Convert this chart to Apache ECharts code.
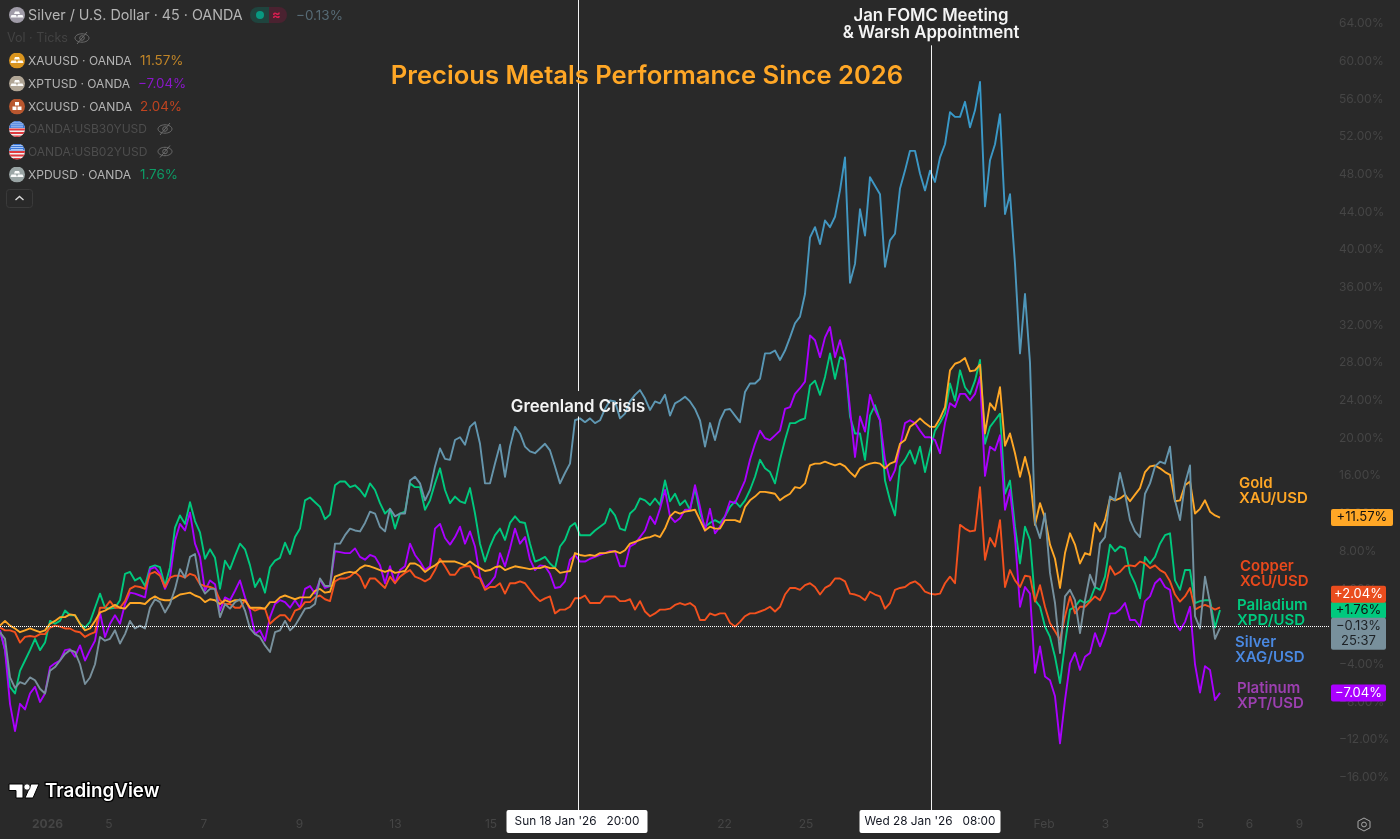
<!DOCTYPE html>
<html><head><meta charset="utf-8">
<style>html,body{margin:0;padding:0;background:#292929}#c{width:1400px;height:839px}</style>
<script src="https://cdn.jsdelivr.net/npm/echarts@6/dist/echarts.min.js"></script>
</head><body><div id="c"></div>
<script>
// percent change since the start of 2026, one sample per chart step
const silver = [
-0.6,-1.3,-5.4,-6.5,-5.9,-6.1,-5.4,-5.7,-6.6,-7.1,
-4.7,-4.3,-3.6,-2.9,-2.5,-2.7,-4.0,-6.1,-5.4,-4.0,
-1.1,-1.5,-1.3,-0.4,-1.8,-0.8,0.6,-0.2,0.1,-0.2,
2.0,2.9,2.6,1.5,2.4,4.0,6.1,5.2,7.4,7.7,
4.5,3.5,4.0,4.0,1.0,2.4,1.9,2.6,2.9,1.7,
-0.2,-0.8,-1.1,-2.0,-2.7,-0.6,-0.4,0.6,-0.4,0.1,
1.0,1.9,2.0,2.4,5.1,4.3,4.3,
8.8,8.8,9.7,10.4,10.2,10.1,11.0,12.2,12.0,10.6,
10.1,12.5,11.7,12.0,12.0,15.5,15.9,15.2,13.4,14.5,
17.0,18.9,17.8,17.7,19.8,20.1,19.3,21.2,21.7,19.4,
15.2,15.2,17.3,19.3,15.9,19.1,21.2,20.5,19.1,18.6,
18.4,18.9,19.4,18.7,17.0,15.2,16.3,17.3,21.9,22.1,
21.7,22.1,21.6,21.9,23.1,24.0,23.9,22.1,22.6,23.9,
24.6,25.1,24.2,23.0,23.9,23.7,
24.6,22.4,23.7,24.0,24.4,23.9,23.1,21.9,19.1,21.6,
19.8,21.9,23.0,23.1,22.4,21.7,24.9,25.8,25.8,26.3,
29.0,29.0,29.3,28.3,29.3,30.7,32.2,32.9,35.3,41.3,
42.4,40.6,43.1,42.4,43.5,46.3,49.8,36.5,38.5,44.3,
41.5,47.7,46.8,45.9,38.2,41.0,41.7,46.5,48.4,50.5,
50.5,48.1,46.3,48.4,47.2,49.8,51.2,54.6,54.1,54.1,
55.7,53.0,54.8,57.8,44.6,49.5,51.2,54.4,43.8,45.9,
38.5,29.0,35.3,28.0,
11.0,9.4,12.0,5.7,2.5,-2.8,3.2,3.9,2.8,-0.7,
2.8,5.5,4.2,8.8,9.5,13.8,13.4,16.3,14.1,11.3,
10.1,9.5,14.1,15.2,17.0,17.5,17.3,19.1,13.4,11.3,
15.2,17.1,1.1,-0.2,5.3,2.5,-1.3,-0.13];
const palladium = [
-0.4,-2.5,-6.4,-7.1,-4.7,-3.6,-2.5,-1.3,-2.5,-1.7,
0.6,0.3,0.6,1.7,1.2,1.2,0.3,-0.1,0.5,2.0,
3.5,2.0,1.9,2.0,2.8,5.6,5.8,4.9,5.2,4.3,
6.3,6.5,6.3,4.3,6.3,10.5,11.8,10.9,13.2,11.2,
10.0,7.2,8.2,7.3,4.0,7.0,6.1,7.5,8.8,8.2,
6.5,4.2,5.1,3.6,6.3,7.0,7.3,8.9,7.7,9.5,
10.4,13.4,13.7,13.2,12.7,11.4,11.9,
15.0,15.4,15.4,14.8,15.0,14.5,13.8,15.2,14.5,13.1,
12.0,12.5,10.4,12.0,12.2,15.2,14.8,14.8,12.4,13.4,
15.2,16.8,14.5,13.1,13.8,13.3,13.1,14.7,12.0,8.8,
6.9,8.5,9.7,10.4,9.2,11.0,11.7,11.1,11.0,8.8,
6.9,7.1,7.4,6.7,6.2,8.5,9.2,10.6,11.0,9.7,
9.7,9.7,10.2,10.6,11.0,12.5,11.8,10.4,10.2,12.0,
12.5,13.6,13.4,12.9,13.6,12.9,
15.5,13.3,14.1,12.9,13.4,12.4,14.7,12.0,10.6,11.0,
11.3,11.0,11.7,12.7,13.3,12.7,13.4,14.5,15.9,17.7,
16.8,16.4,15.2,17.7,19.8,21.6,21.6,21.9,22.1,25.6,
26.1,24.6,26.5,29.0,26.3,28.6,28.3,22.3,20.5,20.5,
17.7,22.4,23.5,21.9,15.5,13.4,11.8,17.0,17.7,18.7,
17.3,19.1,16.4,18.7,20.8,21.6,22.6,25.8,24.0,27.2,
25.4,24.7,26.1,28.3,19.4,21.2,21.9,22.6,14.1,15.5,
10.6,6.7,10.6,9.2,
2.8,2.1,0,-1.1,-3.2,-6.0,-1.8,1.8,2.1,2.8,
2.5,2.8,4.2,3.9,5.3,8.7,8.0,8.5,8.3,5.7,
4.6,3.0,7.4,6.7,7.4,8.8,9.7,9.9,4.9,3.9,
6.0,6.0,2.5,2.7,2.8,2.8,-0.1,1.76];
const platinum = [
-0.4,-2.5,-8.2,-11.1,-8.2,-8.8,-7.1,-6.4,-8.0,-7.1,
-4.3,-3.9,-3.6,-2.5,-2.4,-3.2,-2.0,-3.6,-2.5,-1.5,
1.5,-1.1,0.3,1.2,0.3,2.4,3.6,3.5,3.3,3.1,
6.1,6.3,5.6,4.0,5.2,9.1,10.9,10.2,12.1,8.8,
7.4,3.8,4.9,4.5,1.7,3.1,2.8,3.8,4.9,3.1,
1.7,-0.8,-0.4,-1.5,1.0,2.4,2.8,2.6,2.0,2.8,
2.0,4.0,4.3,3.5,5.0,4.1,4.3,
8.0,7.9,7.8,7.8,8.3,7.4,7.1,7.6,7.4,6.5,
4.6,6.4,4.6,6.0,6.4,8.8,7.6,6.9,6.0,6.4,
10.4,10.9,9.4,8.7,9.5,10.6,8.8,10.1,8.5,5.3,
4.1,4.6,5.3,7.8,6.4,8.3,10.4,8.8,9.5,7.1,
6.0,6.5,6.4,5.6,4.1,4.2,4.8,7.1,7.6,6.9,
6.9,7.2,7.4,7.6,7.8,8.0,8.0,6.4,6.4,8.5,
8.8,9.5,10.2,11.7,10.9,12.5,
14.5,11.7,11.1,11.5,12.4,12.4,15.0,12.7,10.2,12.5,
9.9,10.6,11.7,13.3,13.1,14.3,15.5,17.7,19.4,20.8,
20.0,19.8,20.3,20.8,23.1,23.3,24.7,25.3,26.0,30.9,
30.4,28.6,30.7,31.8,28.6,30.4,28.3,23.1,18.0,22.3,
20.7,24.6,23.0,21.9,17.7,15.5,16.6,19.1,21.6,21.9,
21.6,20.8,20.1,20.1,19.8,18.4,21.6,23.7,23.3,24.7,
24.7,24.0,24.7,26.5,16.0,19.1,18.7,20.3,12.4,14.5,
9.5,2.1,4.2,3.5,
-4.9,-2.1,-5.3,-5.7,-7.4,-12.4,-7.8,-3.9,-2.8,-4.6,
-3.2,-2.8,-0.7,-2.1,-0.7,1.4,1.4,1.8,2.5,0.7,
0.7,0,2.7,3.2,4.6,5.1,4.2,3.9,0.4,-0.4,
0.5,2.1,-4.0,-7.0,-4.2,-4.6,-7.8,-7.04];
const copper = [
-0.1,-0.4,-0.4,-0.6,-1.7,-1.1,-1.0,-1.1,-0.8,-0.8,
-0.1,0.1,0,-0.2,-0.2,-0.5,-0.6,-1.1,-0.8,-0.6,
2.0,2.0,2.7,2.0,2.0,2.7,4.0,4.3,4.2,4.0,
5.6,5.8,5.4,4.2,5.2,5.4,5.4,5.2,5.6,5.4,
4.5,4.3,4.2,4.0,2.8,2.4,2.4,2.0,2.0,2.8,
2.0,1.7,1.9,1.9,0.3,0.8,1.2,1.2,0.6,1.7,
1.9,2.6,2.6,3.1,3.3,2.9,2.7,
4.8,5.1,5.1,5.3,5.8,5.3,4.1,5.1,5.1,4.6,
4.1,5.3,4.6,5.3,5.7,6.0,5.3,5.1,4.8,5.1,
6.0,7.2,6.4,5.5,5.5,6.2,6.4,6.4,5.3,5.1,
3.9,4.2,4.2,4.6,3.5,4.6,4.6,4.8,4.6,3.9,
3.2,2.7,3.0,3.2,1.4,1.8,1.8,2.1,3.0,3.0,
3.3,2.5,2.5,2.5,3.2,3.2,3.2,2.7,2.7,2.9,
1.8,2.7,1.6,1.1,1.4,1.8,
1.8,1.9,2.3,2.5,2.3,2.5,2.1,0.7,0.7,1.4,
1.2,1.4,1.4,0.4,0,0.5,1.1,1.4,1.4,1.6,
1.8,2.1,1.6,2.1,3.4,4.1,4.1,3.9,4.4,4.6,
4.2,3.4,4.1,4.4,5.1,5.1,4.8,3.5,3.4,3.2,
2.8,3.7,3.4,3.2,1.9,2.5,3.9,4.1,4.2,4.6,
4.8,4.4,3.7,3.5,3.4,3.5,4.6,5.3,4.6,10.8,
10.4,10.1,10.2,14.8,7.1,9.4,8.5,11.3,4.2,6.0,
4.9,4.2,5.4,5.3,
2.65,4.4,2.1,0.35,-0.5,-1.4,1.1,3.2,1.4,2.1,
2.1,2.65,3.2,2.8,3.9,6.4,5.5,5.8,6.4,6.5,
6.4,6.9,6.7,6.2,6.5,6.0,5.7,4.8,3.4,2.65,
3.2,4.1,1.8,2.1,2.3,2.1,1.8,2.04];
const gold = [
0.1,0.6,0.1,-0.2,-0.6,-0.4,-0.2,-0.4,-0.6,-0.4,
0.3,0.6,1.0,1.0,1.3,1.2,0.3,-0.4,-0.2,0.6,
1.5,1.7,2.0,2.3,2.0,1.9,2.5,2.5,2.5,2.4,
2.9,3.2,2.9,2.8,2.8,3.1,3.4,3.5,3.6,3.3,
3.1,2.6,2.9,2.8,2.4,2.8,2.6,2.8,2.8,2.8,
2.0,2.0,2.0,1.9,2.6,2.6,3.1,3.3,3.1,2.9,
3.1,3.1,3.1,3.8,4.0,3.6,3.7,
5.3,5.5,5.7,5.8,5.7,6.2,6.5,6.4,6.2,6.0,
5.8,6.0,5.7,5.8,5.9,6.7,6.7,6.4,5.8,6.2,
6.5,6.9,6.9,6.9,6.9,6.7,6.5,6.9,6.5,6.2,
5.9,6.0,6.3,6.4,6.0,6.2,6.4,6.3,6.2,6.1,
6.2,6.2,6.4,6.2,6.2,5.7,5.8,5.9,7.8,7.6,
7.5,7.6,7.5,7.8,7.8,7.9,8.0,7.8,8.1,8.8,
9.0,9.2,9.4,9.5,9.7,9.5,
10.4,11.7,12.2,12.0,12.2,12.3,12.4,11.3,10.2,10.6,
10.4,10.4,11.3,11.3,11.3,11.1,12.7,13.4,13.8,14.3,
14.3,14.2,14.1,13.4,13.8,14.1,14.8,14.7,15.2,17.1,
17.3,17.3,17.5,17.3,17.1,17.3,17.0,16.4,15.9,16.8,
17.1,17.3,17.4,17.3,16.8,17.3,17.5,19.4,19.8,21.2,
21.6,22.1,21.6,21.2,21.2,22.1,23.3,27.2,27.9,28.1,
28.5,27.1,27.2,27.8,20.5,23.7,23.0,25.4,19.2,20.5,
18.4,15.9,18.0,15.9,
10.8,13.1,11.5,8.7,7.2,4.1,7.8,9.9,8.7,6.7,
7.8,7.6,11.0,10.1,11.3,13.6,13.4,13.6,14.0,13.3,
14.0,14.7,16.4,17.0,17.1,16.8,16.4,16.1,13.3,13.4,
15.0,15.4,12.0,12.5,13.4,12.2,11.8,11.57];

const yTicks = [64,60,56,52,48,44,40,36,32,28,24,20,16,12,8,4,0,-4,-8,-12,-16];
const xTickSteps = [9.5,21.8,40.8,59.9,79.1,98.2,144.9,161.2,208.8,221.1,240.1,249.9,259.9];
const xTickLabels = ['2026','5','7','9','13','15','22','25','Feb','3','5','6','9'];
const events = [
  {step:115.6, time:"Sun 18 Jan '26   20:00", text:'Greenland Crisis', at:23.3},
  {step:186.2, time:"Wed 28 Jan '26   08:00", text:'Jan FOMC Meeting\n& Warsh Appointment', at:63.9}
];
const namedLabels = [
  {name:'Gold', pair:'XAU/USD', at:14.42, step:247.8, color:'#ffa726'},
  {name:'Copper', pair:'XCU/USD', at:5.55, step:248.0, color:'#e8491c'},
  {name:'Palladium', pair:'XPD/USD', at:1.47, step:247.4, color:'#00c97e'},
  {name:'Silver', pair:'XAG/USD', at:-2.48, step:247.0, color:'#4a88e0'},
  {name:'Platinum', pair:'XPT/USD', at:-7.38, step:247.4, color:'#9c3fb0'}
];

const font = 'Inter';
const Y_MIN = -19.47, Y_MAX = 66.51;
const points = arr => arr.map((v,i)=>[i,v]);
const minus = s => s.replace('-','\u2212');

function tag(value,text,bg,fg,w,off){
  return {coord:[266,value],symbolSize:0,label:{show:true,position:'inside',offset:[w/2+3,off||0],
    formatter:text,backgroundColor:bg,color:fg,fontFamily:font,fontSize:13,lineHeight:15,
    width:w,align:'center',padding:[1,2,1,2],borderRadius:2}};
}
const series = [
  {name:'Palladium',data:points(palladium),color:'#00c97e',tag:()=>tag(1.76,'+1.76%','#00c97e','#111',51)},
  {name:'Platinum',data:points(platinum),color:'#aa00ff',tag:()=>tag(-7.04,minus('-7.04%'),'#aa00ff','#fff',51)},
  {name:'Copper',data:points(copper),color:'#f4511e',tag:()=>tag(2.04,'+2.04%','#ea4d1e','#fff',51,-13)},
  {name:'Gold',data:points(gold),color:'#ffa726',tag:()=>tag(11.57,'+11.57%','#ffa726','#111',58)},
  {name:'Silver',data:points(silver),
    color:new echarts.graphic.LinearGradient(0,0,0,839,[
      {offset:0,color:'#2f9bd0'},{offset:0.22,color:'#3d97c4'},{offset:0.5,color:'#5f97b2'},
      {offset:0.72,color:'#78909c'},{offset:1,color:'#78909c'}],true),
    tag:()=>tag(-0.13,minus('-0.13%')+'\n25:37','#78909c','#1d2226',51,6)}
].map(s=>({type:'line',name:s.name,data:s.data,showSymbol:false,symbol:'none',animation:false,silent:true,
  lineStyle:{color:s.color,width:1.9,join:'round'},
  markPoint:{silent:true,animation:false,data:[s.tag()]}}));

// annotation layer: reference lines, event text, name labels
series.push({type:'line',name:'annotations',data:[],z:5,silent:true,animation:false,
  markLine:{silent:true,animation:false,symbol:'none',label:{show:false},
    data:[
      [{coord:[0,0],lineStyle:{color:'#ffffff',type:[1,1],width:1.2}},{coord:[266,0]}],
      [{coord:[events[0].step,Y_MAX],lineStyle:{color:'#f2f2f2',type:'solid',width:1}},{coord:[events[0].step,25.0]}],
      [{coord:[events[0].step,22.3],lineStyle:{color:'#f2f2f2',type:'solid',width:1}},{coord:[events[0].step,Y_MIN]}],
      [{coord:[events[1].step,61.7],lineStyle:{color:'#f2f2f2',type:'solid',width:1}},{coord:[events[1].step,Y_MIN]}]
    ]},
  markPoint:{silent:true,animation:false,data:[
    ...events.map(e=>({coord:[e.step,e.at],symbolSize:0,label:{show:true,position:'inside',formatter:e.text,
      color:'#f4f4f4',fontFamily:font,fontWeight:600,fontSize:16.8,lineHeight:17}})),
    ...events.map(e=>({coord:[e.step-0.2,Y_MIN],symbolSize:0,label:{show:true,position:'inside',offset:[0,11.5],
      formatter:e.time,backgroundColor:'#fff',color:'#131722',fontFamily:font,fontSize:11.8,
      width:141,height:23,lineHeight:23,align:'center',borderRadius:2}})),
    ...namedLabels.map(n=>({coord:[n.step,n.at],symbolSize:0,label:{show:true,position:'right',distance:0,
      formatter:n.name+'\n'+n.pair,color:n.color,fontFamily:font,fontWeight:600,fontSize:15,lineHeight:15,align:'left'}}))
  ]}});

// ---- pane legend -----
const svg = s => 'data:image/svg+xml;utf8,'+encodeURIComponent('<svg xmlns="http://www.w3.org/2000/svg" width="32" height="32" viewBox="0 0 32 32">'+s+'</svg>');
const ingot = c => svg(`<circle cx="16" cy="16" r="16" fill="${c}"/><path d="M12 9h8l2 5H10z M5 16h9l2 5H3z M18 16h9l2 5H16z" fill="#fff" opacity=".95"/>`);
const copperIcon = svg('<circle cx="16" cy="16" r="16" fill="#b9572f"/><rect x="12" y="7" width="8" height="7" fill="#fff"/><rect x="7" y="16" width="8" height="7" fill="#fff"/><rect x="17" y="16" width="8" height="7" fill="#fff"/>');
const flag = svg('<defs><clipPath id="c"><circle cx="16" cy="16" r="16"/></clipPath></defs><g clip-path="url(#c)"><rect width="32" height="32" fill="#f0f0f0"/><rect y="15" width="32" height="4" fill="#e0393e"/><rect y="22" width="32" height="4" fill="#e0393e"/><rect y="29" width="32" height="4" fill="#e0393e"/><rect y="0" width="32" height="14" fill="#3b77d8"/><rect x="4" y="3" width="24" height="1.5" fill="#cfe0ff"/><rect x="4" y="7" width="24" height="1.5" fill="#cfe0ff"/><rect x="4" y="11" width="24" height="1.5" fill="#cfe0ff"/></g>');
const legendRows = [
  {y:60.5,icon:ingot('#d9941e'),text:'XAUUSD \u00b7 OANDA',val:'11.57%',vx:140,vc:'#c08528'},
  {y:83.5,icon:ingot('#b0a595'),text:'XPTUSD \u00b7 OANDA',val:'\u22127.04%',vx:138,vc:'#8a17c9'},
  {y:106.5,icon:copperIcon,text:'XCUUSD \u00b7 OANDA',val:'2.04%',vx:140,vc:'#c04420'},
  {y:129,icon:flag,text:'OANDA:USB30YUSD',off:true,eye:165},
  {y:151.5,icon:flag,text:'OANDA:USB02YUSD',off:true,eye:165},
  {y:174.5,icon:ingot('#9aa5a5'),text:'XPDUSD \u00b7 OANDA',val:'1.76%',vx:140,vc:'#0d9c66'}
];
const eye = (x,y)=>({type:'group',x:x,y:y,silent:true,children:[
  {type:'ellipse',shape:{cx:0,cy:0,rx:7,ry:4.2},style:{fill:'none',stroke:'#6b6b6b',lineWidth:1}},
  {type:'circle',shape:{cx:0,cy:0,r:2.3},style:{fill:'none',stroke:'#6b6b6b',lineWidth:1}},
  {type:'line',shape:{x1:-5,y1:6,x2:5,y2:-6},style:{stroke:'#6b6b6b',lineWidth:1}}]});
const T = (x,y,text,fill,size,weight)=>({type:'text',x:x,y:y,silent:true,style:{text:text,fill:fill,fontFamily:font,fontSize:size||12,fontWeight:weight||400,verticalAlign:'middle'}});
const graphics = [
  {type:'image',x:9,y:7,silent:true,style:{image:ingot('#a09ca8'),x:0,y:0,width:16,height:16}},
  T(28,15.5,'Silver / U.S. Dollar \u00b7 45 \u00b7 OANDA','#b4b4b4',14.3),
  {type:'rect',shape:{x:250,y:7,width:19,height:16,r:[8,0,0,8]},silent:true,style:{fill:'#1f443e'}},
  {type:'rect',shape:{x:269,y:7,width:18,height:16,r:[0,8,8,0]},silent:true,style:{fill:'#4a2230'}},
  {type:'circle',shape:{cx:260,cy:15,r:4},silent:true,style:{fill:'#089981'}},
  T(272,15,'\u2248','#d81e50',13,700),
  T(296,15.5,'\u22120.13%','#566a75',13.5),
  T(7,38.5,'Vol \u00b7 Ticks','#434343',12.5),
  eye(82,38),
  ...legendRows.flatMap(r=>{
    const a=[{type:'image',x:9,y:r.y-8,silent:true,style:{image:r.icon,x:0,y:0,width:16,height:16}},
      T(28,r.y+0.5,r.text,r.off?'#4d4d4d':'#b4b4b4',12.05)];
    if(r.val)a.push(T(r.vx,r.y+0.5,r.val,r.vc,13.4));
    if(r.eye)a.push(eye(r.eye,r.y));
    return a;
  }),
  {type:'rect',shape:{x:6.5,y:189.5,width:26,height:18,r:3},silent:true,style:{fill:'none',stroke:'#3a3a3a',lineWidth:1}},
  {type:'polyline',shape:{points:[[15.5,200],[19.5,196.5],[23.5,200]]},silent:true,style:{fill:'none',stroke:'#d8d8d8',lineWidth:1.4}},
  // TradingView mark
  {type:'polygon',shape:{points:[[9,784],[23,784],[23,798],[16,798],[16,790.5],[9,790.5]]},silent:true,style:{fill:'#fff',stroke:'#000',lineWidth:1}},
  {type:'polygon',shape:{points:[[39,784],[33,798],[25,798],[31,784]]},silent:true,style:{fill:'#fff',stroke:'#000',lineWidth:1}},
  {type:'circle',shape:{cx:27,cy:787,r:3.2},silent:true,style:{fill:'#fff',stroke:'#000',lineWidth:0.8}},
  {type:'text',x:45,y:791,silent:true,style:{text:'TradingView',fill:'#fff',stroke:'#000',lineWidth:2.5,fontFamily:font,fontSize:18.8,fontWeight:600,verticalAlign:'middle'}},
  // settings glyph
  {type:'polygon',shape:{points:[[1364,818],[1370,821.2],[1370,827.8],[1364,831],[1358,827.8],[1358,821.2]]},silent:true,style:{fill:'none',stroke:'#a8a8a8',lineWidth:1}},
  {type:'circle',shape:{cx:1364,cy:824.5,r:2.4},silent:true,style:{fill:'none',stroke:'#a8a8a8',lineWidth:1}}
];

const chart = echarts.init(document.getElementById('c'),null,{renderer:'canvas'});
chart.setOption({
  backgroundColor:'#292929',
  animation:false,
  title:{text:'Precious Metals Performance Since 2026',left:642,top:58,textAlign:'center',
    textStyle:{color:'#ffa726',fontFamily:font,fontSize:25.6,fontWeight:600}},
  legend:{show:false},tooltip:{show:false},
  grid:{left:0,right:70,top:0,bottom:29,containLabel:false},
  xAxis:{type:'value',min:0,max:266,splitLine:{show:false},axisLine:{show:false},axisTick:{show:false},
    axisLabel:{show:true,customValues:xTickSteps,margin:8,color:'#454545',fontFamily:font,fontSize:12,hideOverlap:false,
      showMinLabel:true,showMaxLabel:true,
      formatter:v=>{const t=xTickLabels[xTickSteps.indexOf(v)];return t==='2026'?'{b|2026}':t;},
      rich:{b:{color:'#454545',fontFamily:font,fontSize:12,fontWeight:700}}}},
  yAxis:{type:'value',position:'right',min:Y_MIN,max:Y_MAX,splitLine:{show:false},axisLine:{show:false},axisTick:{show:false},
    axisLabel:{customValues:yTicks,margin:9,align:'left',color:'#454545',fontFamily:font,fontSize:12,hideOverlap:false,
      formatter:v=>(v<0?'\u2212':'')+Math.abs(v).toFixed(2)+'%'}},
  series:series,
  graphic:{elements:graphics}
});
</script></body></html>
